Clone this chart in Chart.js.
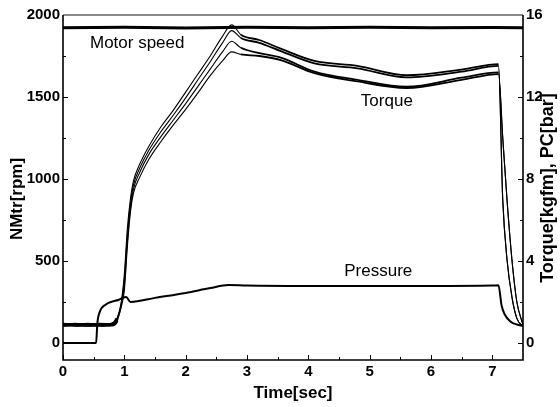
<!DOCTYPE html>
<html>
<head>
<meta charset="utf-8">
<script src="https://cdn.jsdelivr.net/npm/chart.js@4"></script>
<style>
  html, body { margin: 0; padding: 0; background: #fff; }
  #wrap { width: 560px; height: 407px; }
</style>
</head>
<body>
<div id="wrap"><canvas id="chart"></canvas></div>
<script>
/* ------------------------------------------------------------
   DATA  (time in sec, motor speed in rpm, torque in kgfm, PC in bar)
   ------------------------------------------------------------ */
const timeTorque = [0, 0.2, 0.4, 0.6, 0.8, 0.88, 0.95, 1.0, 1.05, 1.1, 1.15, 1.25, 1.4, 1.6, 1.8, 2.0, 2.2, 2.4, 2.6, 2.75, 2.9, 3.2, 3.55, 4.1, 4.8, 5.6, 6.5, 7.1, 7.17, 7.24, 7.32, 7.4, 7.5];
const torque1 = [0.90, 0.86, 0.91, 0.88, 0.93, 1.20, 2.00, 3.36, 5.60, 7.04, 7.92, 8.72, 9.60, 10.56, 11.36, 12.24, 13.12, 14.00, 14.96, 15.52, 15.04, 14.78, 14.36, 13.76, 13.52, 13.06, 13.34, 13.60, 6.96, 4.05, 2.24, 1.20, 0.80];
const torque2 = [0.88, 0.90, 0.86, 0.91, 0.90, 1.16, 1.92, 3.04, 5.28, 6.80, 7.72, 8.52, 9.40, 10.32, 11.12, 11.96, 12.84, 13.72, 14.64, 15.24, 14.88, 14.64, 14.24, 13.64, 13.40, 12.96, 13.24, 13.52, 6.96, 4.05, 2.24, 1.20, 0.80];
const torque3 = [0.91, 0.88, 0.90, 0.86, 0.91, 1.12, 1.84, 2.80, 4.96, 6.56, 7.52, 8.32, 9.20, 10.08, 10.88, 11.68, 12.52, 13.36, 14.20, 14.72, 14.40, 14.14, 13.92, 13.24, 12.84, 12.50, 12.94, 13.20, 10.00, 6.96, 4.05, 2.00, 0.88];
const torque4 = [0.86, 0.91, 0.88, 0.90, 0.88, 1.08, 1.76, 2.56, 4.72, 6.40, 7.32, 8.08, 8.96, 9.84, 10.64, 11.40, 12.20, 13.04, 13.76, 14.20, 14.08, 14.00, 13.80, 13.16, 12.76, 12.44, 12.84, 13.12, 10.00, 6.96, 4.05, 2.00, 0.88];

const timePressure = [0, 0.3, 0.54, 0.56, 0.6, 0.7, 0.8, 0.9, 0.98, 1.03, 1.1, 1.5, 2.0, 2.4, 2.7, 3.0, 4.0, 5.0, 6.0, 7.0, 7.1, 7.15, 7.2, 7.3, 7.4, 7.5];
const pressure = [0, 0, 0, 0.96, 1.52, 1.88, 2.02, 2.10, 2.21, 2.24, 2.00, 2.20, 2.44, 2.68, 2.83, 2.80, 2.78, 2.78, 2.78, 2.80, 2.82, 1.84, 1.40, 1.04, 0.90, 0.83];

const timeMotor = [0, 1, 2, 3, 4, 5, 6, 7, 7.5];
const motorSpeed = [1922, 1925, 1921, 1926, 1923, 1925, 1922, 1924, 1923];

const xTicks = [0, 1, 2, 3, 4, 5, 6, 7];
const xMinor = [0.5, 1.5, 2.5, 3.5, 4.5, 5.5, 6.5];
const rpmTicks = [0, 500, 1000, 1500, 2000];
const rpmMinor = [250, 750, 1250, 1750];
const kgfTicks = [0, 4, 8, 12, 16];
const kgfMinor = [2, 6, 10, 14];

// in-plot captions, placed in data units (time, rpm)
const captions = [
    { text: "Motor speed", t: 1.21, rpm: 1796 },
    { text: "Torque", t: 5.28, rpm: 1442 },
    { text: "Pressure", t: 5.14, rpm: 408 }
];

const FONT = "'Liberation Sans', Arial, sans-serif";

const toPoints = (xs, ys) => xs.map((x, i) => ({ x: x, y: ys[i] }));

/* ------------------------------------------------------------
   FRAME, INWARD TICKS, CAPTIONS, AXIS TITLES
   ------------------------------------------------------------ */
const decorations = {
    id: "decorations",
    afterDatasetsDraw(chart) {
        const { ctx, chartArea: a, scales } = chart;
        ctx.save();

        ctx.strokeStyle = "#000";
        ctx.lineWidth = 1;
        const mark = (scale, values, len) => {
            values.forEach(v => {
                const p = Math.round(scale.getPixelForValue(v)) + 0.5;
                ctx.beginPath();
                if (scale.id === "x") { ctx.moveTo(p, a.bottom); ctx.lineTo(p, a.bottom - len); }
                else if (scale.id === "y") { ctx.moveTo(a.left, p); ctx.lineTo(a.left + len, p); }
                else { ctx.moveTo(a.right, p); ctx.lineTo(a.right - len, p); }
                ctx.stroke();
            });
        };
        mark(scales.x, xTicks, 5);
        mark(scales.x, xMinor, 3);
        mark(scales.y, rpmTicks, 5);
        mark(scales.y, rpmMinor, 3);
        mark(scales.y2, kgfTicks, 5);
        mark(scales.y2, kgfMinor, 3);

        // top edge is grey, the three axes black
        ctx.lineWidth = 2;
        ctx.strokeStyle = "#8a8a8a";
        ctx.beginPath();
        ctx.moveTo(a.left, a.top);
        ctx.lineTo(a.right, a.top);
        ctx.stroke();

        ctx.strokeStyle = "#000";
        ctx.lineWidth = 1.6;
        ctx.beginPath();
        ctx.moveTo(a.left, a.top);
        ctx.lineTo(a.left, a.bottom);
        ctx.lineTo(a.right, a.bottom);
        ctx.lineTo(a.right, a.top);
        ctx.stroke();

        // captions
        ctx.fillStyle = "#000";
        ctx.font = "17px " + FONT;
        ctx.textAlign = "center";
        ctx.textBaseline = "alphabetic";
        captions.forEach(c => {
            ctx.fillText(c.text, scales.x.getPixelForValue(c.t), scales.y.getPixelForValue(c.rpm));
        });

        // axis titles
        ctx.font = "bold 17px " + FONT;
        ctx.textBaseline = "middle";
        ctx.fillText("Time[sec]", (a.left + a.right) / 2, 393);

        ctx.save();
        ctx.translate(17, 199);
        ctx.rotate(-Math.PI / 2);
        ctx.fillText("NMtr[rpm]", 0, 0);
        ctx.restore();

        ctx.save();
        ctx.font = "bold 18px " + FONT;
        ctx.translate(548, 188);
        ctx.rotate(-Math.PI / 2);
        ctx.fillText("Torque[kgfm], PC[bar]", 0, 0);
        ctx.restore();

        ctx.restore();
    }
};

/* ------------------------------------------------------------
   CHART
   ------------------------------------------------------------ */
const tickFont = { family: FONT, size: 15, weight: "bold" };

// torque traces: noisy band before the rise, thin afterwards
const torqueWidth = ctx => {
    const t = ctx.p1.parsed.x;
    if (t <= 0.88) return 3;
    if (t > 2.9 && t <= 7.1) return 1.8;
    return 1.1;
};

function torqueSet(values) {
    return {
        data: toPoints(timeTorque, values),
        yAxisID: "y2",
        borderColor: "#000",
        borderWidth: 1.1,
        segment: { borderWidth: torqueWidth },
        pointRadius: 0,
        cubicInterpolationMode: "monotone"
    };
}

new Chart(document.getElementById("chart"), {
    type: "line",
    data: {
        datasets: [
            {
                data: toPoints(timeMotor, motorSpeed),
                yAxisID: "y",
                borderColor: "#000",
                borderWidth: 3,
                pointRadius: 0
            },
            torqueSet(torque1),
            torqueSet(torque2),
            torqueSet(torque3),
            torqueSet(torque4),
            {
                data: toPoints(timePressure, pressure),
                yAxisID: "y2",
                borderColor: "#000",
                borderWidth: 2,
                pointRadius: 0,
                cubicInterpolationMode: "monotone"
            }
        ]
    },
    options: {
        responsive: true,
        maintainAspectRatio: false,
        animation: false,
        layout: { padding: { top: 15, left: 0, right: 0, bottom: 0 } },
        plugins: {
            legend: { display: false },
            tooltip: { enabled: false }
        },
        scales: {
            x: {
                type: "linear",
                position: "bottom",
                min: 0,
                max: 7.5,
                grid: { display: false, drawTicks: false },
                border: { display: false },
                afterBuildTicks: s => { s.ticks = xTicks.map(v => ({ value: v })); },
                afterFit: s => { s.height = 47; },
                ticks: {
                    autoSkip: false,
                    maxRotation: 0,
                    padding: 3,
                    color: "#000",
                    font: tickFont,
                    callback: v => String(v)
                }
            },
            y: {
                type: "linear",
                position: "left",
                min: -104,
                max: 2000,
                grid: { display: false, drawTicks: false },
                border: { display: false },
                afterBuildTicks: s => { s.ticks = rpmTicks.map(v => ({ value: v })); },
                afterFit: s => { s.width = 63; },
                ticks: {
                    padding: 3,
                    color: "#000",
                    font: tickFont,
                    callback: v => String(v)
                }
            },
            y2: {
                type: "linear",
                position: "right",
                min: -0.83,
                max: 16,
                grid: { display: false, drawTicks: false },
                border: { display: false },
                afterBuildTicks: s => { s.ticks = kgfTicks.map(v => ({ value: v })); },
                afterFit: s => { s.width = 37; },
                ticks: {
                    padding: 3,
                    color: "#000",
                    font: tickFont,
                    callback: v => String(v)
                }
            }
        }
    },
    plugins: [decorations]
});
</script>
</body>
</html>
